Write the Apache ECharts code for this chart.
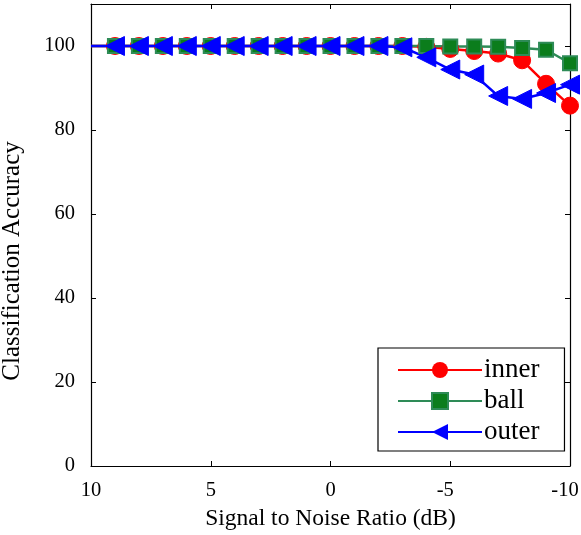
<!DOCTYPE html>
<html>
<head>
<meta charset="utf-8">
<script src="https://cdn.jsdelivr.net/npm/echarts@6/dist/echarts.min.js"></script>
<style>
  html, body { margin: 0; padding: 0; background: #fff; }
  #chart { width: 581px; height: 535px; }
</style>
</head>
<body>
<div id="chart"></div>
<script>
// SNR (dB), from 10 down to -10
const snr = [10, 9, 8, 7, 6, 5, 4, 3, 2, 1, 0, -1, -2, -3, -4, -5, -6, -7, -8, -9, -10]
const inner = [100, 100, 100, 100, 100, 100, 100, 100, 100, 100, 100, 100, 100, 100, 99.8, 99.3, 98.8, 98.2, 96.6, 91.0, 85.8]
const ball = [100, 100, 100, 100, 100, 100, 100, 100, 100, 100, 100, 100, 100, 100, 100, 99.9, 99.9, 99.8, 99.5, 99.1, 95.9]
const outer = [100, 100, 100, 100, 100, 100, 100, 100, 100, 100, 100, 100, 100, 99.7, 97.3, 94.4, 93.2, 88.1, 87.4, 88.8, 90.8]

const font = 'Liberation Serif'
const chart = echarts.init(document.getElementById('chart'))

// first point (10 dB) is drawn without a marker
function pairs(vals) {
  return vals.map((v, i) => {
    const item = { value: [snr[i], v] }
    if (i === 0) item.symbol = 'none'
    return item
  })
}

const axisCommon = {
  type: 'value',
  axisLine: { show: true, onZero: false, lineStyle: { color: '#000', width: 1.2 } },
  axisTick: { show: true, inside: true, length: 5, lineStyle: { color: '#000' } },
  splitLine: { show: false },
}

const option = {
  animation: false,
  backgroundColor: '#fff',
  grid: { left: 91, right: 11, top: 4, bottom: 69, containLabel: false, outerBoundsMode: 'none' },
  legend: {
    left: 378,
    top: 348,
    orient: 'vertical',
    itemWidth: 84,
    itemHeight: 20,
    itemGap: 3,
    padding: [8, 25, 5, 19],
    borderColor: '#000',
    borderWidth: 1.2,
    backgroundColor: '#fff',
    textStyle: { fontFamily: font, fontSize: 27, lineHeight: 28, color: '#000', padding: [0, 0, 0, -3] },
    data: ['inner', 'ball', 'outer'],
  },
  xAxis: [
    Object.assign({}, axisCommon, {
      min: -10, max: 10, interval: 5, inverse: true,
      position: 'bottom',
      name: 'Signal to Noise Ratio (dB)',
      nameLocation: 'middle',
      nameGap: 41,
      nameTextStyle: { fontFamily: font, fontSize: 23.5, color: '#000' },
      axisLabel: {
        fontFamily: font, fontSize: 20.5, color: '#000', margin: 14,
        // negative labels sit a little left of their tick, as in the original
        formatter: v => (v < 0 ? '{neg|' + v + '}' : String(v)),
        rich: { neg: { fontFamily: font, fontSize: 20.5, color: '#000', padding: [0, 10, 0, 0] } },
      },
    }),
    Object.assign({}, axisCommon, {
      min: -10, max: 10, interval: 5, inverse: true,
      position: 'top',
      axisLabel: { show: false },
    }),
  ],
  yAxis: [
    Object.assign({}, axisCommon, {
      min: 0, max: 110, interval: 20,
      position: 'left',
      name: 'Classification Accuracy',
      nameLocation: 'middle',
      nameGap: 66,
      // title sits a bit below the middle of the axis
      nameTextStyle: { fontFamily: font, fontSize: 25, color: '#000', padding: [0, 52, 0, 0] },
      axisLabel: {
        fontFamily: font, fontSize: 20.5, color: '#000', margin: 16,
        formatter: v => (v > 100 ? '' : v),
      },
    }),
    Object.assign({}, axisCommon, {
      min: 0, max: 110, interval: 20,
      position: 'right',
      axisLabel: { show: false },
    }),
  ],
  series: [
    {
      name: 'inner',
      type: 'line',
      data: pairs(inner),
      symbol: 'circle',
      symbolSize: 17,
      lineStyle: { color: '#ff0000', width: 2.5 },
      itemStyle: { color: '#ff0000', borderColor: '#ff0000' },
    },
    {
      name: 'ball',
      type: 'line',
      data: pairs(ball),
      symbol: 'rect',
      symbolSize: 14,
      lineStyle: { color: '#2e8b57', width: 2.5 },
      itemStyle: { color: '#0b7d1c', borderColor: '#2e8b57', borderWidth: 2 },
    },
    {
      name: 'outer',
      type: 'line',
      data: pairs(outer),
      symbol: 'triangle',
      symbolRotate: 90,
      symbolSize: 19,
      lineStyle: { color: '#0000ff', width: 2.5 },
      itemStyle: { color: '#0000ff', borderColor: '#0000ff' },
    },
  ],
}
chart.setOption(option)
</script>
</body>
</html>
